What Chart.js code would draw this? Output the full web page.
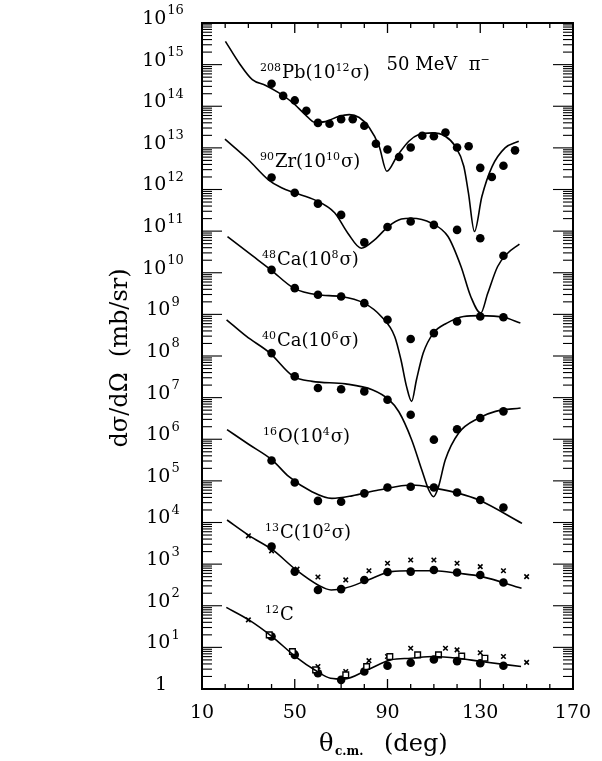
<!DOCTYPE html>
<html>
<head>
<meta charset="utf-8">
<script src="https://cdn.jsdelivr.net/npm/chart.js@4"></script>
<style>
  body { margin: 0; background: #fff; }
  canvas { display: block; }
</style>
</head>
<body>
<canvas id="xsecChart" width="602" height="761"></canvas>
<script>
// Values are log10 of dσ/dΩ (mb/sr), already multiplied by the factor in each label
const angles10 = [40, 50, 60, 70, 80, 90, 100, 110, 120, 130, 140];
const pbAngles = [40, 45, 50, 55, 60, 65, 70, 75, 80, 85, 90, 95, 100, 105, 110, 115, 120, 125, 130, 135, 140, 145];

const pbDots = [14.54, 14.25, 14.14, 13.89, 13.60, 13.58, 13.69, 13.69, 13.53, 13.10, 12.96, 12.78, 13.01, 13.29, 13.28, 13.37, 13.01, 13.04, 12.52, 12.30, 12.57, 12.94];
const pbCurveX = [20.1, 26.0, 31.7, 37.5, 43.2, 49.0, 54.5, 58.8, 63.2, 69.1, 73.5, 77.8, 82.1, 86.4, 89.7, 94.1, 99.2, 103.5, 109.3, 114.9, 119.2, 122.9, 124.9, 127.5, 130.7, 135.1, 140.7, 146.6];
const pbCurve = [15.56, 15.04, 14.64, 14.50, 14.32, 14.09, 13.80, 13.61, 13.63, 13.76, 13.80, 13.73, 13.49, 13.04, 12.44, 12.80, 13.16, 13.32, 13.36, 13.28, 13.04, 12.56, 11.92, 10.99, 11.83, 12.55, 13.00, 13.16];

const zrDots = [12.29, 11.92, 11.66, 11.39, 10.73, 11.10, 11.23, 11.15, 11.03, 10.83, 10.41];
const zrCurveX = [19.9, 29.9, 38.5, 44.3, 50.0, 58.6, 67.2, 72.9, 78.7, 84.4, 90.3, 96.0, 100.3, 109.0, 116.1, 121.7, 125.9, 130.2, 133.2, 137.5, 141.8, 146.9];
const zrCurve = [13.21, 12.72, 12.24, 12.04, 11.92, 11.75, 11.44, 10.95, 10.59, 10.79, 11.11, 11.29, 11.31, 11.19, 10.87, 10.15, 9.43, 9.03, 9.50, 10.15, 10.47, 10.69];

const ca48Dots = [10.07, 9.63, 9.47, 9.43, 9.27, 8.87, 8.41, 8.55, 8.83, 8.95, 8.93];
const ca48CurveX = [21.0, 30.3, 39.7, 49.6, 59.7, 69.8, 79.9, 87.3, 93.1, 95.8, 98.2, 100.4, 102.5, 105.4, 109.8, 115.6, 122.8, 130.0, 140.1, 147.3];
const ca48Curve = [10.87, 10.47, 10.07, 9.63, 9.47, 9.43, 9.27, 8.95, 8.47, 7.91, 7.27, 6.91, 7.43, 8.07, 8.55, 8.79, 8.95, 8.97, 8.93, 8.79];

const ca40Dots = [8.07, 7.51, 7.23, 7.20, 7.15, 6.95, 6.59, 5.99, 6.24, 6.51, 6.67];
const ca40CurveX = [20.6, 29.2, 39.3, 49.4, 57.5, 71.9, 83.4, 90.6, 94.9, 100.4, 104.8, 107.8, 109.9, 112.0, 114.9, 120.7, 129.4, 136.6, 147.4];
const ca40Curve = [8.87, 8.47, 8.07, 7.51, 7.39, 7.33, 7.19, 6.95, 6.66, 5.99, 5.26, 4.78, 4.62, 4.86, 5.50, 6.15, 6.51, 6.67, 6.75];

const o16Dots = [5.49, 4.96, 4.52, 4.50, 4.70, 4.84, 4.86, 4.84, 4.72, 4.54, 4.36];
const o16CurveX = [20.8, 30.1, 40.3, 47.5, 57.4, 66.0, 74.7, 86.2, 100.6, 110.7, 120.8, 129.4, 148.0];
const o16Curve = [6.23, 5.88, 5.50, 5.10, 4.74, 4.58, 4.64, 4.78, 4.90, 4.82, 4.70, 4.54, 3.98];

const c13Dots = [3.42, 2.82, 2.38, 2.40, 2.62, 2.81, 2.82, 2.86, 2.80, 2.74, 2.56];
const c13CrossX = [30, 40, 51, 60, 72, 82, 90, 100, 110, 120, 130, 140, 150];
const c13Cross = [3.68, 3.32, 2.88, 2.69, 2.62, 2.84, 3.02, 3.10, 3.10, 3.02, 2.94, 2.84, 2.70];
const c13CurveX = [20.8, 30.5, 40.5, 50.6, 60.0, 65.7, 71.5, 81.6, 91.6, 100.3, 110.4, 120.5, 130.6, 147.8];
const c13Curve = [4.06, 3.68, 3.34, 2.86, 2.50, 2.38, 2.42, 2.62, 2.82, 2.84, 2.84, 2.78, 2.70, 2.42];

const c12Dots = [1.26, 0.82, 0.38, 0.22, 0.42, 0.56, 0.63, 0.71, 0.67, 0.62, 0.56];
const c12CrossX = [30, 50, 60, 72, 82, 90, 100, 115, 120, 130, 140, 150];
const c12Cross = [1.66, 0.86, 0.54, 0.42, 0.68, 0.78, 0.98, 0.98, 0.94, 0.87, 0.78, 0.64];
const c12SquareX = [39, 49, 59, 72, 81, 91, 103, 112, 122, 132];
const c12Square = [1.30, 0.90, 0.46, 0.34, 0.54, 0.78, 0.82, 0.82, 0.79, 0.74];
const c12CurveX = [20.5, 30.2, 40.2, 50.3, 59.7, 65.4, 71.2, 81.3, 91.4, 100.0, 110.1, 120.2, 130.3, 147.6];
const c12Curve = [1.96, 1.66, 1.26, 0.78, 0.42, 0.26, 0.24, 0.46, 0.70, 0.74, 0.78, 0.74, 0.66, 0.54];

const xTickLabels = [10, 50, 90, 130, 170];
const yTickExps = [0, 1, 2, 3, 4, 5, 6, 7, 8, 9, 10, 11, 12, 13, 14, 15, 16];

// curve labels: [angle, log10 value, text parts] ; parts marked true are superscripts
const curveLabels = [
  [35.0, 14.68, [['208', true], ['Pb(10'], ['12', true], ['σ)']]],
  [35.0, 12.54, [['90', true], ['Zr(10'], ['10', true], ['σ)']]],
  [35.9, 10.19, [['48', true], ['Ca(10'], ['8', true], ['σ)']]],
  [35.9, 8.24, [['40', true], ['Ca(10'], ['6', true], ['σ)']]],
  [36.3, 5.93, [['16', true], ['O(10'], ['4', true], ['σ)']]],
  [37.2, 3.63, [['13', true], ['C(10'], ['2', true], ['σ)']]],
  [37.2, 1.66, [['12', true], ['C']]],
  [89.6, 14.87, [['50 MeV  π'], ['−', true]]]
];

const pts = (xs, logs) => xs.map((a, i) => ({ x: a, y: Math.pow(10, logs[i]) }));

function curve(xs, logs) {
  return { data: pts(xs, logs), borderColor: '#000', borderWidth: 1.6, pointRadius: 0,
    fill: false, cubicInterpolationMode: 'monotone' };
}
function dots(xs, logs) {
  return { data: pts(xs, logs), showLine: false, pointRadius: 4.3,
    pointBackgroundColor: '#000', pointBorderColor: '#000', pointBorderWidth: 0 };
}
function crosses(xs, logs) {
  return { data: pts(xs, logs), showLine: false, pointStyle: 'crossRot', pointRadius: 3.2,
    pointBorderColor: '#000', pointBorderWidth: 1.6 };
}
function squares(xs, logs) {
  return { data: pts(xs, logs), showLine: false, pointStyle: 'rect', pointRadius: 4,
    pointBackgroundColor: '#fff', pointBorderColor: '#000', pointBorderWidth: 1.4 };
}

const FONT = '"DejaVu Serif", serif';

function drawRich(ctx, x, y, parts) {
  let cx = x;
  ctx.textAlign = 'left';
  ctx.textBaseline = 'alphabetic';
  for (const [text, sup] of parts) {
    ctx.font = sup ? '11px ' + FONT : '18px ' + FONT;
    ctx.fillText(text, cx, sup ? y - 7 : y);
    cx += ctx.measureText(text).width + (sup ? 1 : 0);
  }
}

const axesPlugin = {
  id: 'axesFrame',
  afterDraw(chart) {
    const { ctx, chartArea: a, scales: { x, y } } = chart;
    const line = (x1, y1, x2, y2) => { ctx.beginPath(); ctx.moveTo(x1, y1); ctx.lineTo(x2, y2); ctx.stroke(); };
    ctx.save();
    ctx.strokeStyle = '#000';
    ctx.fillStyle = '#000';
    ctx.lineWidth = 2;
    ctx.strokeRect(a.left, a.top, a.right - a.left, a.bottom - a.top);

    // x ticks, every 10 deg, inside on bottom and top
    ctx.lineWidth = 1.3;
    for (let v = 10; v <= 170; v += 10) {
      const px = x.getPixelForValue(v);
      const len = xTickLabels.includes(v) ? 10 : 5;
      line(px, a.bottom, px, a.bottom - len);
      line(px, a.top, px, a.top + len);
    }
    // y ticks, decades and 2..9 minor ticks, inside on left and right
    ctx.lineWidth = 1.1;
    for (let e = 0; e < 16; e++) {
      for (let m = 1; m <= 9; m++) {
        const py = y.getPixelForValue(m * Math.pow(10, e));
        const len = m === 1 ? 20 : 10;
        line(a.left, py, a.left + len, py);
        line(a.right, py, a.right - len, py);
      }
    }

    // x tick labels
    ctx.font = '19px ' + FONT;
    ctx.textAlign = 'center';
    ctx.textBaseline = 'middle';
    xTickLabels.forEach(v => ctx.fillText(String(v), x.getPixelForValue(v), 713));

    // y tick labels 10^n
    yTickExps.forEach(e => {
      const py = y.getPixelForValue(Math.pow(10, e)) - 4;
      const cx = 163;
      ctx.textBaseline = 'middle';
      if (e === 0) {
        ctx.font = '19px ' + FONT;
        ctx.textAlign = 'center';
        ctx.fillText('1', cx - 2, py);
        return;
      }
      ctx.font = '19px ' + FONT;
      const w1 = ctx.measureText('10').width;
      ctx.font = '13px ' + FONT;
      const w2 = ctx.measureText(String(e)).width;
      const left = cx - (w1 + w2 + 1) / 2;
      ctx.textAlign = 'left';
      ctx.font = '19px ' + FONT;
      ctx.fillText('10', left, py);
      ctx.font = '13px ' + FONT;
      ctx.fillText(String(e), left + w1 + 1, py - 8);
    });

    // axis titles
    ctx.save();
    ctx.translate(121, 358);
    ctx.rotate(-Math.PI / 2);
    ctx.font = '24px ' + FONT;
    ctx.textAlign = 'center';
    ctx.textBaseline = 'middle';
    ctx.fillText('dσ/dΩ  (mb/sr)', 0, 0);
    ctx.restore();

    ctx.textAlign = 'left';
    ctx.textBaseline = 'alphabetic';
    ctx.font = '24px ' + FONT;
    ctx.fillText('θ', 319, 751);
    ctx.font = 'bold 12px ' + FONT;
    ctx.fillText('c.m.', 335, 755);
    ctx.font = '24px ' + FONT;
    ctx.fillText('(deg)', 384, 751);

    // curve labels
    curveLabels.forEach(([ang, lg, parts]) => {
      drawRich(ctx, x.getPixelForValue(ang), y.getPixelForValue(Math.pow(10, lg)), parts);
    });
    ctx.restore();
  }
};

new Chart(document.getElementById('xsecChart'), {
  type: 'line',
  data: {
    datasets: [
      curve(pbCurveX, pbCurve), dots(pbAngles, pbDots),
      curve(zrCurveX, zrCurve), dots(angles10, zrDots),
      curve(ca48CurveX, ca48Curve), dots(angles10, ca48Dots),
      curve(ca40CurveX, ca40Curve), dots(angles10, ca40Dots),
      curve(o16CurveX, o16Curve), dots(angles10, o16Dots),
      curve(c13CurveX, c13Curve), dots(angles10, c13Dots), crosses(c13CrossX, c13Cross),
      curve(c12CurveX, c12Curve), squares(c12SquareX, c12Square),
      dots(angles10, c12Dots), crosses(c12CrossX, c12Cross)
    ]
  },
  options: {
    responsive: false,
    animation: false,
    layout: { padding: { left: 202, right: 29, top: 23, bottom: 72 } },
    scales: {
      x: { type: 'linear', min: 10, max: 170, display: false },
      y: { type: 'logarithmic', min: 1, max: 1e16, display: false }
    },
    plugins: { legend: { display: false }, tooltip: { enabled: false } }
  },
  plugins: [axesPlugin]
});
</script>
</body>
</html>
